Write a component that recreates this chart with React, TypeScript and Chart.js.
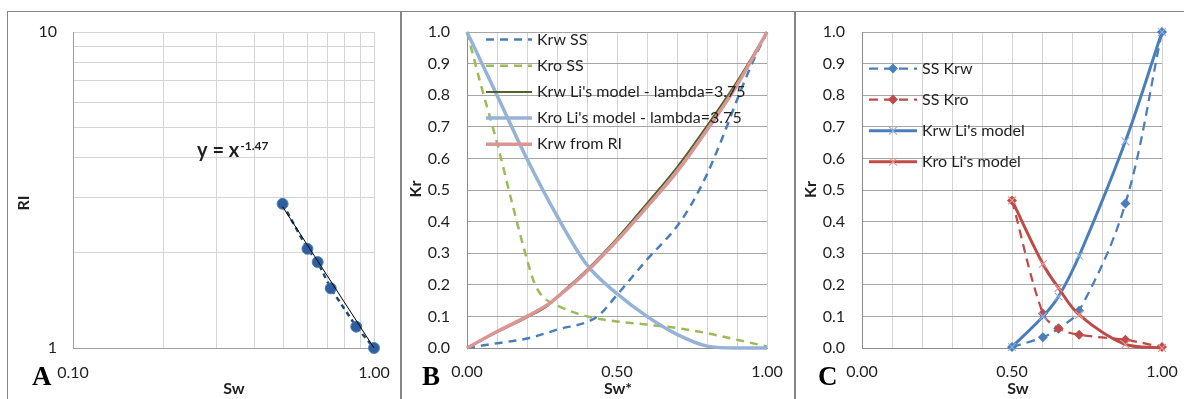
import React, { useEffect, useRef } from "react";
import { Chart, registerables } from "chart.js";

Chart.register(...registerables);

const FONT_FAMILY = "Lato, 'Noto Sans', sans-serif";
const TEXT = "#1f1f1f";

// ---------------- Panel A : RI vs Sw (log-log) ----------------
const swA = [0.497, 0.601, 0.65, 0.718, 0.873, 1.0];
const riA = [2.86, 2.06, 1.87, 1.545, 1.168, 1.0];
const trendSwA = [0.497, 1.0];
const trendRiA = [2.8, 1.0];
const xTicksA = [0.1, 0.2, 0.3, 0.4, 0.5, 0.6, 0.7, 0.8, 0.9, 1.0];
const xTickLabelsA = ["0.10", "", "", "", "", "", "", "", "", "1.00"];
const yTicksA = [1, 2, 3, 4, 5, 6, 7, 8, 9, 10];
const yTickLabelsA = ["1", "", "", "", "", "", "", "", "", "10"];
const equationMainA = "y = x";
const equationExpA = "-1.47";
const titlesA = { x: "Sw", y: "RI" };

// ---------------- Panel B : normalized Kr vs Sw* ----------------
const swKrwSsB = [0, 0.1, 0.2, 0.3, 0.435, 0.5, 0.6, 0.7, 0.75, 0.8, 0.85, 0.9, 0.95, 1.0];
const krwSsB = [0, 0.015, 0.03, 0.058, 0.1, 0.168, 0.28, 0.385, 0.458, 0.55, 0.662, 0.785, 0.9, 1.0];
const swKroSsB = [0, 0.05, 0.1, 0.15, 0.2, 0.225, 0.25, 0.3, 0.4, 0.5, 0.6, 0.7, 0.8, 0.9, 1.0];
const kroSsB = [1.0, 0.82, 0.65, 0.46, 0.28, 0.205, 0.165, 0.135, 0.1, 0.084, 0.074, 0.063, 0.047, 0.026, 0.005];
const swKrwLiB = [0, 0.1, 0.2, 0.27, 0.3, 0.4, 0.5, 0.6, 0.7, 0.8, 0.9, 1.0];
const krwLiB = [0, 0.05, 0.097, 0.135, 0.162, 0.248, 0.347, 0.458, 0.572, 0.703, 0.843, 1.0];
const krwRiB = [0, 0.052, 0.1, 0.138, 0.16, 0.243, 0.34, 0.447, 0.558, 0.69, 0.832, 1.0];
const swKroLiB = [0, 0.1, 0.2, 0.3, 0.4, 0.5, 0.6, 0.7, 0.8, 0.9, 1.0];
const kroLiB = [1.0, 0.8, 0.598, 0.418, 0.263, 0.172, 0.1, 0.043, 0.006, 0, 0];
const labelsB = [
  "Krw SS",
  "Kro SS",
  "Krw Li's model - lambda=3.75",
  "Kro Li's model - lambda=3.75",
  "Krw from RI",
];
const titlesB = { x: "Sw*", y: "Kr" };

// ---------------- Panel C : Kr vs Sw ----------------
const swC = [0.5, 0.603, 0.655, 0.724, 0.878, 1.0];
const krwSsC = [0.003, 0.034, 0.062, 0.118, 0.457, 1.0];
const kroSsC = [0.467, 0.109, 0.062, 0.042, 0.026, 0.003];
const krwLiC = [0.003, 0.1, 0.163, 0.292, 0.654, 1.0];
const kroLiC = [0.467, 0.266, 0.19, 0.105, 0.011, 0.0];
const labelsC = ["SS Krw", "SS Kro", "Krw Li's model", "Kro Li's model"];
const titlesC = { x: "Sw", y: "Kr" };

// ---------------- shared ticks for B / C ----------------
const xTicksKr = [0, 0.1, 0.2, 0.3, 0.4, 0.5, 0.6, 0.7, 0.8, 0.9, 1.0];
const xTickLabelsKr = ["0.00", "", "", "", "", "0.50", "", "", "", "", "1.00"];
const yTicksKr = [0, 0.1, 0.2, 0.3, 0.4, 0.5, 0.6, 0.7, 0.8, 0.9, 1.0];
const yTickLabelsKr = ["0.0", "0.1", "0.2", "0.3", "0.4", "0.5", "0.6", "0.7", "0.8", "0.9", "1.0"];

const tickFont = { family: FONT_FAMILY, size: 16 };

const pts = (xs: number[], ys: number[]) => xs.map((x, i) => ({ x, y: ys[i] }));

function drawMarker(ctx: CanvasRenderingContext2D, ds: any, x: number, y: number) {
  const r = ds.pointRadius || 0;
  if (!r) return;
  ctx.save();
  ctx.setLineDash([]);
  ctx.beginPath();
  if (ds.pointStyle === "rectRot") {
    ctx.moveTo(x, y - r);
    ctx.lineTo(x + r, y);
    ctx.lineTo(x, y + r);
    ctx.lineTo(x - r, y);
    ctx.closePath();
    ctx.fillStyle = ds.pointBackgroundColor;
    ctx.fill();
  } else if (ds.pointStyle === "crossRot") {
    const d = r * Math.SQRT1_2;
    ctx.moveTo(x - d, y - d);
    ctx.lineTo(x + d, y + d);
    ctx.moveTo(x + d, y - d);
    ctx.lineTo(x - d, y + d);
    ctx.strokeStyle = ds.pointBorderColor;
    ctx.lineWidth = ds.pointBorderWidth || 1;
    ctx.stroke();
  } else {
    ctx.arc(x, y, r, 0, Math.PI * 2);
    ctx.fillStyle = ds.pointBackgroundColor;
    ctx.fill();
  }
  ctx.restore();
}

const insideLegend = {
  id: "insideLegend",
  afterDatasetsDraw(chart: any, _args: any, opts: any) {
    if (!opts || !opts.display) return;
    const ctx: CanvasRenderingContext2D = chart.ctx;
    chart.data.datasets.forEach((ds: any, i: number) => {
      const y = opts.y0 + i * opts.dy;
      ctx.save();
      ctx.strokeStyle = ds.borderColor;
      ctx.lineWidth = ds.borderWidth;
      ctx.setLineDash(ds.borderDash || []);
      ctx.lineCap = "butt";
      ctx.beginPath();
      ctx.moveTo(opts.x0, y);
      ctx.lineTo(opts.x1, y);
      ctx.stroke();
      ctx.restore();
      drawMarker(ctx, ds, (opts.x0 + opts.x1) / 2, y);
      ctx.save();
      ctx.fillStyle = TEXT;
      ctx.font = `16px ${FONT_FAMILY}`;
      ctx.textBaseline = "middle";
      ctx.textAlign = "left";
      ctx.fillText(ds.label, opts.textX, y);
      ctx.restore();
    });
  },
};

// axis titles placed like the original (Excel does not always center them)
const axisTitles = {
  id: "axisTitles",
  afterDraw(chart: any, _args: any, opts: any) {
    if (!opts || !opts.x) return;
    const ctx: CanvasRenderingContext2D = chart.ctx;
    ctx.save();
    ctx.fillStyle = TEXT;
    ctx.font = `bold 16px ${FONT_FAMILY}`;
    ctx.textAlign = "center";
    ctx.textBaseline = "middle";
    ctx.fillText(opts.x, opts.xPos[0], opts.xPos[1]);
    ctx.translate(opts.yPos[0], opts.yPos[1]);
    ctx.rotate(-Math.PI / 2);
    ctx.fillText(opts.y, 0, 0);
    ctx.restore();
  },
};

const equationPlugin = {
  id: "equation",
  afterDatasetsDraw(chart: any, _args: any, opts: any) {
    if (!opts || !opts.main) return;
    const ctx: CanvasRenderingContext2D = chart.ctx;
    ctx.save();
    ctx.fillStyle = TEXT;
    ctx.textBaseline = "alphabetic";
    ctx.textAlign = "left";
    ctx.font = `bold 20px ${FONT_FAMILY}`;
    ctx.fillText(opts.main, opts.x, opts.y);
    const w = ctx.measureText(opts.main).width;
    ctx.font = `bold 12px ${FONT_FAMILY}`;
    ctx.fillText(opts.sup, opts.x + w + 1, opts.y - 7);
    ctx.restore();
  },
};

function axis(
  type: string,
  min: number,
  max: number,
  ticks: number[],
  labels: string[],
  isX: boolean,
  size: number,
  tickPad: number,
  gridColor: string,
  borderColor: string
) {
  return {
    type,
    min,
    max,
    afterBuildTicks: (s: any) => {
      s.ticks = ticks.map((v) => ({ value: v }));
    },
    afterFit: (s: any) => {
      if (isX) {
        s.height = size;
        s.paddingLeft = 0;
        s.paddingRight = 0;
      } else {
        s.width = size;
        s.paddingTop = 0;
        s.paddingBottom = 0;
      }
    },
    ticks: {
      autoSkip: false,
      maxRotation: 0,
      padding: tickPad,
      font: tickFont,
      color: TEXT,
      callback: (_v: any, i: number) => labels[i],
    },
    grid: { color: gridColor, drawTicks: false, lineWidth: 1 },
    border: { color: borderColor, width: 1 },
    title: { display: false },
  };
}

function baseOptions(padRight: number, plugins: any, scales: any) {
  return {
    responsive: false,
    animation: false,
    events: [],
    layout: { padding: { left: 0, right: padRight, top: 20, bottom: 0 } },
    plugins: {
      legend: { display: false },
      tooltip: { enabled: false },
      ...plugins,
    },
    scales,
  };
}

const configA = (): any => ({
  type: "scatter",
  data: {
    datasets: [
      {
        label: "RI",
        data: pts(swA, riA),
        showLine: true,
        borderColor: "#1F497D",
        borderWidth: 2.5,
        borderDash: [5, 4],
        pointStyle: "circle",
        pointRadius: 5.5,
        pointBackgroundColor: "#2D5F9E",
        pointBorderColor: "#4F81BD",
        pointBorderWidth: 1,
        order: 2,
        clip: false,
      },
      {
        label: "Power trend",
        data: pts(trendSwA, trendRiA),
        showLine: true,
        borderColor: "#000000",
        borderWidth: 1,
        pointRadius: 0,
        order: 1,
        clip: false,
      },
    ],
  },
  options: baseOptions(
    26,
    {
      equation: { main: equationMainA, sup: equationExpA, x: 189, y: 145 },
      axisTitles: { x: titlesA.x, y: titlesA.y, xPos: [226, 377], yPos: [16, 191] },
    },
    {
      x: axis("logarithmic", 0.1, 1, xTicksA, xTickLabelsA, true, 51, 15, "#d4d4d4", "#a0a0a0"),
      y: axis("logarithmic", 1, 10, yTicksA, yTickLabelsA, false, 65, 16, "#d4d4d4", "#a0a0a0"),
    }
  ),
  plugins: [equationPlugin, axisTitles],
});

const BLUE = "#4A7EBB";
const RED = "#BE4B48";

const configB = (): any => ({
  type: "scatter",
  data: {
    datasets: [
      {
        label: labelsB[0],
        data: pts(swKrwSsB, krwSsB),
        showLine: true,
        borderColor: BLUE,
        borderWidth: 2.5,
        borderDash: [8, 6],
        cubicInterpolationMode: "monotone",
        pointRadius: 0,
        order: 5,
        clip: false,
      },
      {
        label: labelsB[1],
        data: pts(swKroSsB, kroSsB),
        showLine: true,
        borderColor: "#9BBB59",
        borderWidth: 2.5,
        borderDash: [8, 6],
        cubicInterpolationMode: "monotone",
        pointRadius: 0,
        order: 4,
        clip: false,
      },
      {
        label: labelsB[2],
        data: pts(swKrwLiB, krwLiB),
        showLine: true,
        borderColor: "#4F6228",
        borderWidth: 2,
        cubicInterpolationMode: "monotone",
        pointRadius: 0,
        order: 3,
        clip: false,
      },
      {
        label: labelsB[3],
        data: pts(swKroLiB, kroLiB),
        showLine: true,
        borderColor: "#95B3D7",
        borderWidth: 3.5,
        cubicInterpolationMode: "monotone",
        pointRadius: 0,
        order: 2,
        clip: false,
      },
      {
        label: labelsB[4],
        data: pts(swKrwLiB, krwRiB),
        showLine: true,
        borderColor: "#D99694",
        borderWidth: 3.5,
        cubicInterpolationMode: "monotone",
        pointRadius: 0,
        order: 1,
        clip: false,
      },
    ],
  },
  options: baseOptions(
    27,
    {
      insideLegend: { display: true, x0: 84, x1: 130, textX: 135, y0: 27.5, dy: 26.2 },
      axisTitles: { x: titlesB.x, y: titlesB.y, xPos: [216, 377], yPos: [14, 177] },
    },
    {
      x: axis("linear", 0, 1, xTicksKr, xTickLabelsKr, true, 51, 14, "#d4d4d4", "#8c8c8c"),
      y: axis("linear", 0, 1, yTicksKr, yTickLabelsKr, false, 65, 17, "#a6a6a6", "#8c8c8c"),
    }
  ),
  plugins: [insideLegend, axisTitles],
});

const configC = (): any => ({
  type: "scatter",
  data: {
    datasets: [
      {
        label: labelsC[0],
        data: pts(swC, krwSsC),
        showLine: true,
        borderColor: BLUE,
        borderWidth: 2.25,
        borderDash: [9, 6],
        tension: 0.35,
        pointStyle: "rectRot",
        pointRadius: 5,
        pointBackgroundColor: BLUE,
        pointBorderColor: BLUE,
        pointBorderWidth: 0,
        order: 4,
        clip: false,
      },
      {
        label: labelsC[1],
        data: pts(swC, kroSsC),
        showLine: true,
        borderColor: RED,
        borderWidth: 2.25,
        borderDash: [9, 6],
        tension: 0.35,
        pointStyle: "rectRot",
        pointRadius: 5,
        pointBackgroundColor: RED,
        pointBorderColor: RED,
        pointBorderWidth: 0,
        order: 3,
        clip: false,
      },
      {
        label: labelsC[2],
        data: pts(swC, krwLiC),
        showLine: true,
        borderColor: BLUE,
        borderWidth: 3,
        tension: 0.35,
        pointStyle: "crossRot",
        pointRadius: 5.5,
        pointBackgroundColor: "rgba(0,0,0,0)",
        pointBorderColor: "#8DB0DE",
        pointBorderWidth: 1.2,
        order: 2,
        clip: false,
      },
      {
        label: labelsC[3],
        data: pts(swC, kroLiC),
        showLine: true,
        borderColor: RED,
        borderWidth: 3,
        tension: 0.35,
        pointStyle: "crossRot",
        pointRadius: 5.5,
        pointBackgroundColor: "rgba(0,0,0,0)",
        pointBorderColor: "#E59694",
        pointBorderWidth: 1.2,
        order: 1,
        clip: false,
      },
    ],
  },
  options: baseOptions(
    22,
    {
      insideLegend: { display: true, x0: 73, x1: 121, textX: 126, y0: 56.5, dy: 31.1 },
      axisTitles: { x: titlesC.x, y: titlesC.y, xPos: [222, 377], yPos: [14.5, 177.5] },
    },
    {
      x: axis("linear", 0, 1, xTicksKr, xTickLabelsKr, true, 51, 14, "#d4d4d4", "#8c8c8c"),
      y: axis("linear", 0, 1, yTicksKr, yTickLabelsKr, false, 66, 17, "#a6a6a6", "#8c8c8c"),
    }
  ),
  plugins: [insideLegend, axisTitles],
});

function ChartCanvas({ makeConfig, width, height }: { makeConfig: () => any; width: number; height: number }) {
  const ref = useRef<HTMLCanvasElement | null>(null);
  useEffect(() => {
    if (!ref.current) return;
    const chart = new Chart(ref.current, makeConfig());
    return () => chart.destroy();
  }, []);
  return (
    <canvas
      ref={ref}
      width={width}
      height={height}
      style={{ position: "absolute", left: 0, top: 0, width, height, display: "block" }}
    />
  );
}

function Panel({
  left,
  width,
  letter,
  letterLeft,
  makeConfig,
}: {
  left: number;
  width: number;
  letter: string;
  letterLeft: number;
  makeConfig: () => any;
}) {
  return (
    <div
      style={{
        position: "absolute",
        left,
        top: 11,
        width,
        height: 400,
        boxSizing: "border-box",
        border: "1px solid #868686",
        background: "#ffffff",
      }}
    >
      <ChartCanvas makeConfig={makeConfig} width={width - 2} height={387} />
      <div
        style={{
          position: "absolute",
          left: letterLeft,
          top: 350.5,
          fontFamily: "'Liberation Serif', 'Times New Roman', serif",
          fontWeight: "bold",
          fontSize: 27,
          lineHeight: "27px",
          color: "#000",
        }}
      >
        {letter}
      </div>
    </div>
  );
}

export default function App() {
  return (
    <div
      style={{
        position: "fixed",
        left: 0,
        top: 0,
        width: 1184,
        height: 399,
        overflow: "hidden",
        background: "#ffffff",
      }}
    >
      <Panel left={7} width={394} letter="A" letterLeft={24} makeConfig={configA} />
      <Panel left={401} width={394} letter="B" letterLeft={20} makeConfig={configB} />
      <Panel left={795} width={390} letter="C" letterLeft={22} makeConfig={configC} />
    </div>
  );
}
